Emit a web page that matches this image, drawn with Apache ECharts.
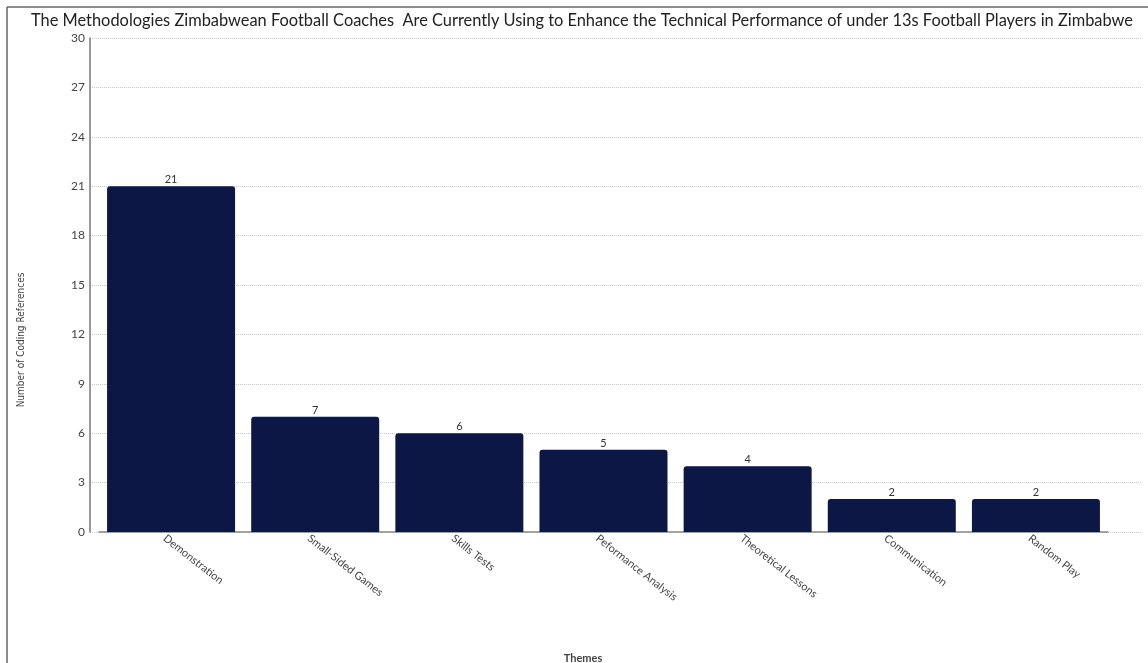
<!DOCTYPE html>
<html>
<head>
<meta charset="utf-8">
<script src="https://cdn.jsdelivr.net/npm/echarts@6/dist/echarts.min.js"></script>
<style>html,body{margin:0;padding:0;background:#fff}#c{width:1148px;height:663px}</style>
</head>
<body>
<div id="c"></div>
<script>
const titleText = 'The Methodologies Zimbabwean Football Coaches  Are Currently Using to Enhance the Technical Performance of under 13s Football Players in Zimbabwe';
const categories = ['Demonstration', 'Small-Sided Games', 'Skills Tests', 'Peformance Analysis', 'Theoretical Lessons', 'Communication', 'Random Play'];
const values = [21, 7, 6, 5, 4, 2, 2];
const yAxisName = 'Number of Coding References';
const xAxisName = 'Themes';

const chart = echarts.init(document.getElementById('c'));
chart.setOption({
  animation: false,
  title: {
    text: titleText, left: 577, top: 8, textAlign: 'center',
    textStyle: { fontFamily: 'Lato', fontSize: 16.4, fontWeight: 'normal', color: '#222' }
  },
  grid: [
    { left: 90, top: 38, width: 1052, height: 494 },
    { left: 99, top: 38, width: 1009, height: 494 }
  ],
  xAxis: [
    { type: 'value', gridIndex: 0, show: false, min: 0, max: 1 },
    { type: 'category', gridIndex: 1, data: categories,
      axisLine: { lineStyle: { color: '#888', width: 1.5 } },
      axisTick: { show: false },
      axisLabel: { rotate: -38, fontFamily: 'Lato', fontSize: 11, color: '#444', margin: 10, interval: 0, padding: [7, 0, 0, -8] } }
  ],
  yAxis: [
    { type: 'value', gridIndex: 0, min: 0, max: 30, interval: 3,
      axisLine: { show: true, lineStyle: { color: '#777', width: 1.5 } },
      axisTick: { show: false },
      axisLabel: { fontFamily: 'Lato', fontSize: 12, color: '#444', margin: 5 },
      splitLine: { lineStyle: { color: '#c8c8c8', type: 'dotted', width: 1 } } },
    { type: 'value', gridIndex: 1, min: 0, max: 30, interval: 3, show: false, splitLine: { show: false } }
  ],
  series: [{
    type: 'bar', xAxisIndex: 1, yAxisIndex: 1, data: values, barWidth: 128,
    itemStyle: { color: '#0c1746', borderRadius: [3, 3, 0, 0] },
    label: { show: true, position: 'top', distance: 1, fontFamily: 'Lato', fontSize: 11, color: '#333' }
  }],
  graphic: [
    { type: 'line', shape: { x1: 7, y1: 7, x2: 1148, y2: 7 }, style: { stroke: '#666', lineWidth: 1.5 } },
    { type: 'line', shape: { x1: 7, y1: 7, x2: 7, y2: 663 }, style: { stroke: '#666', lineWidth: 1.5 } },
    { type: 'text', x: 21, y: 340, rotation: Math.PI / 2,
      style: { text: yAxisName, fill: '#444', fontFamily: 'DejaVu Sans Condensed', fontSize: 10, align: 'center', verticalAlign: 'middle' } },
    { type: 'text', x: 583, y: 658, style: { text: xAxisName, fill: '#444', fontFamily: 'Lato', fontSize: 11, fontWeight: 'bold', align: 'center', verticalAlign: 'middle' } }
  ]
});
</script>
</body>
</html>
